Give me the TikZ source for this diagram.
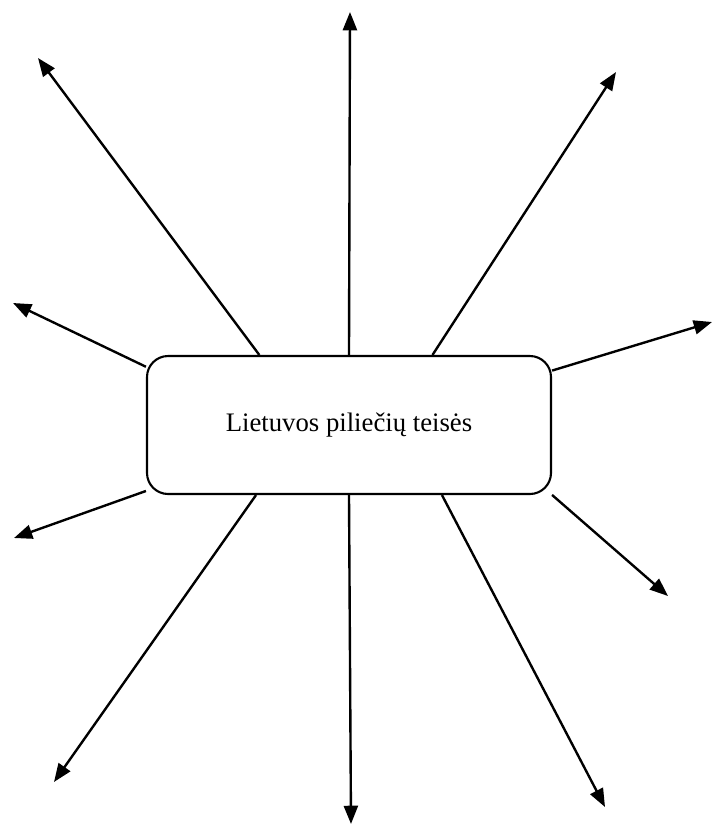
\documentclass[tikz,border=0pt]{standalone}
\usepackage{fontspec}
\setmainfont{Liberation Serif}
\usetikzlibrary{arrows.meta}

\begin{document}
\begin{tikzpicture}[x = 0.025cm, y = -0.025cm,
    teise/.style = {line width = 1.7pt, -{Triangle[length = 13pt, width = 10pt]}}]
    \useasboundingbox (0, 0) rectangle (713, 825);
    \node (box) at (349, 425) [draw, line width = 1.5pt, rounded corners = 15pt,
        minimum width = 404*0.025cm, minimum height = 138*0.025cm,
        font = \fontsize{19}{23}\selectfont] {Lietuvos piliečių teisės};
    \coordinate (t1) at (38, 58);
    \coordinate (t2) at (350, 12);
    \coordinate (t3) at (616, 72);
    \coordinate (t4) at (712, 322);
    \coordinate (t5) at (13, 303);
    \coordinate (t6) at (14, 538);
    \coordinate (t7) at (54, 782);
    \coordinate (t8) at (351, 824);
    \coordinate (t9) at (605, 807);
    \coordinate (t10) at (668, 596);
    \draw[teise] (box.142.5) -- (t1);
    \draw[teise] (box.90) -- (t2);
    \draw[teise] (box.40.8) -- (t3);
    \draw[teise] (box.15.2) -- (t4);
    \draw[teise] (box.164.8) -- (t5);
    \draw[teise] (box.198.9) -- (t6);
    \draw[teise] (box.217.5) -- (t7);
    \draw[teise] (box.270) -- (t8);
    \draw[teise] (box.323.1) -- (t9);
    \draw[teise] (box.341.1) -- (t10);
\end{tikzpicture}
\end{document}
